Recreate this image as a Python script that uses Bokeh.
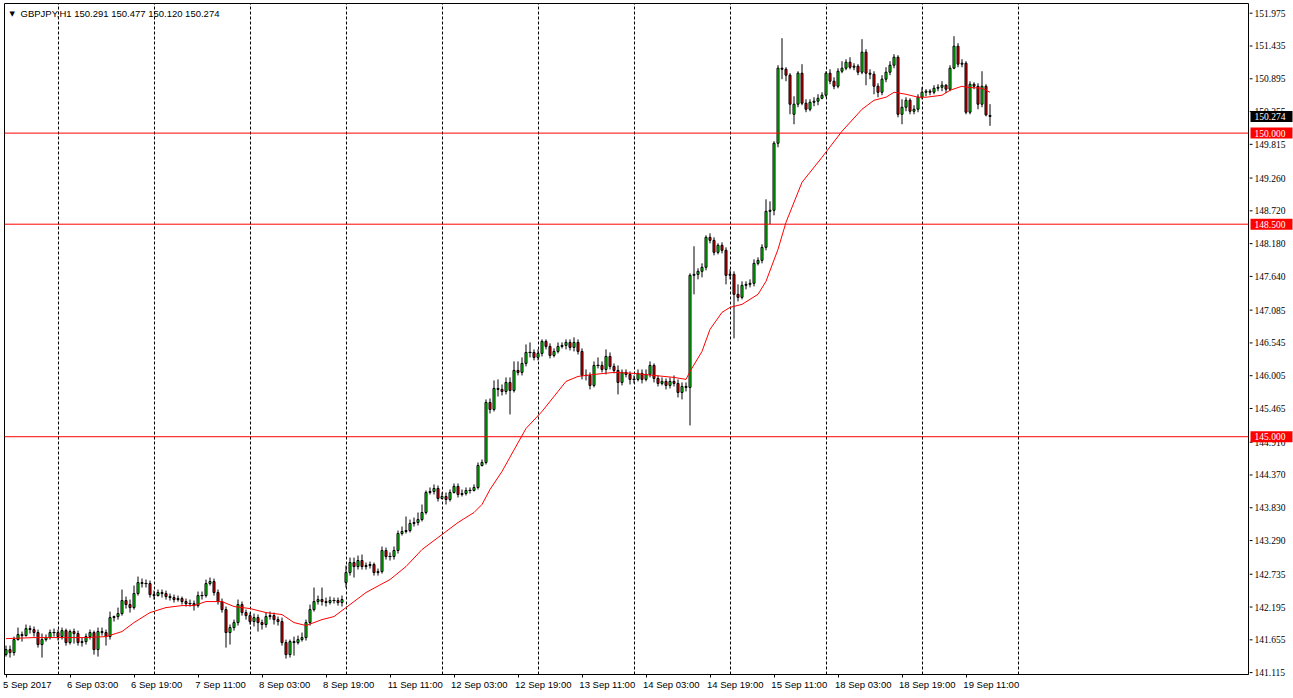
from bokeh.plotting import figure
from bokeh.layouts import row
from bokeh.models import (ColumnDataSource, FixedTicker, Span, Label, Range1d, LinearAxis)
from bokeh.embed import file_html
from bokeh.resources import INLINE

symbol_title = "GBPJPY,H1  150.291 150.477 150.120 150.274"

opens = [
    141.412, 141.494, 141.445, 141.659, 141.742, 141.725, 141.840, 141.824, 141.775, 141.577,
    141.659, 141.692, 141.775, 141.775, 141.708, 141.807, 141.610, 141.791, 141.758, 141.610,
    141.626, 141.708, 141.775, 141.494, 141.791, 141.775, 141.708, 142.021, 142.038, 142.087,
    142.302, 142.236, 142.186, 142.417, 142.598, 142.582, 142.582, 142.400, 142.384, 142.434,
    142.417, 142.368, 142.351, 142.318, 142.335, 142.285, 142.252, 142.252, 142.219, 142.384,
    142.384, 142.582, 142.615, 142.434, 142.285, 142.153, 141.775, 141.857, 141.939, 142.236,
    142.104, 142.054, 141.956, 142.021, 141.939, 141.907, 142.038, 142.054, 141.988, 141.956,
    141.610, 141.412, 141.626, 141.610, 141.659, 141.692, 141.939, 142.153, 142.285, 142.318,
    142.285, 142.269, 142.302, 142.302, 142.269, 142.598, 142.763, 142.928, 142.862, 142.961,
    142.862, 142.878, 142.895, 142.763, 142.779, 143.126, 143.027, 143.027, 143.126, 143.406,
    143.439, 143.455, 143.571, 143.587, 143.636, 143.752, 144.082, 144.098, 144.148, 143.983,
    144.016, 143.966, 144.082, 144.181, 144.049, 144.065, 144.115, 144.115, 144.164, 144.526,
    144.576, 145.565, 145.449, 145.795, 145.779, 145.746, 145.894, 145.762, 146.092, 146.059,
    146.207, 146.388, 146.388, 146.306, 146.372, 146.570, 146.487, 146.339, 146.405, 146.487,
    146.504, 146.553, 146.471, 146.553, 146.405, 146.009, 146.009, 145.845, 146.174, 146.174,
    146.108, 146.322, 146.158, 146.092, 145.894, 146.059, 146.026, 145.944, 145.944, 146.043,
    145.944, 146.026, 146.174, 145.960, 145.878, 145.911, 145.845, 145.911, 145.878, 145.729,
    145.828, 145.812, 147.658, 147.674, 147.724, 147.790, 148.284, 148.234, 148.037, 148.152,
    148.070, 147.658, 147.674, 147.345, 147.295, 147.493, 147.509, 147.526, 147.855, 147.904,
    148.119, 148.712, 148.729, 149.833, 151.069, 151.052, 150.954, 150.310, 150.476, 150.987,
    150.492, 150.393, 150.508, 150.525, 150.574, 150.624, 150.987, 150.855, 150.772, 151.019,
    151.069, 151.168, 151.085, 151.102, 151.003, 151.333, 150.987, 150.970, 150.772, 150.673,
    150.888, 151.003, 151.118, 151.250, 150.310, 150.426, 150.541, 150.360, 150.393, 150.591,
    150.673, 150.690, 150.673, 150.739, 150.755, 150.789, 150.723, 151.069, 151.431, 151.135,
    151.151, 150.344, 150.805, 150.772, 150.476, 150.772, 150.291,
]

highs = [
    141.560, 141.560, 141.708, 141.857, 141.791, 141.907, 141.890, 141.874, 141.824, 141.758,
    141.742, 141.824, 141.840, 141.824, 141.857, 141.840, 141.824, 141.840, 141.807, 141.692,
    141.758, 141.824, 141.807, 141.857, 141.857, 141.824, 142.120, 142.054, 142.186, 142.483,
    142.368, 142.318, 142.549, 142.697, 142.664, 142.648, 142.631, 142.466, 142.483, 142.483,
    142.466, 142.417, 142.400, 142.384, 142.368, 142.335, 142.318, 142.302, 142.450, 142.450,
    142.648, 142.681, 142.664, 142.483, 142.335, 142.203, 141.907, 141.988, 142.318, 142.285,
    142.153, 142.104, 142.087, 142.071, 141.988, 142.104, 142.120, 142.104, 142.038, 142.021,
    141.659, 141.659, 141.708, 141.725, 141.775, 141.988, 142.236, 142.516, 142.384, 142.516,
    142.351, 142.368, 142.351, 142.351, 142.384, 142.878, 143.010, 143.010, 143.043, 143.060,
    142.928, 142.944, 142.928, 142.829, 143.192, 143.175, 143.093, 143.192, 143.455, 143.521,
    143.686, 143.636, 143.669, 143.752, 143.884, 144.115, 144.164, 144.214, 144.197, 144.082,
    144.082, 144.131, 144.230, 144.230, 144.131, 144.164, 144.164, 144.214, 144.576, 144.625,
    145.614, 145.630, 145.927, 145.944, 145.861, 145.977, 145.977, 146.240, 146.240, 146.306,
    146.520, 146.553, 146.438, 146.438, 146.603, 146.603, 146.537, 146.454, 146.553, 146.553,
    146.603, 146.603, 146.636, 146.603, 146.454, 146.108, 146.059, 146.240, 146.306, 146.240,
    146.438, 146.388, 146.207, 146.174, 146.108, 146.108, 146.075, 146.009, 146.108, 146.108,
    146.108, 146.240, 146.207, 146.009, 145.977, 145.960, 145.977, 146.009, 145.944, 145.894,
    145.894, 147.691, 148.136, 147.773, 147.856, 148.317, 148.350, 148.284, 148.185, 148.201,
    148.119, 147.756, 147.724, 147.509, 147.559, 147.559, 147.592, 147.921, 147.954, 148.169,
    148.910, 148.877, 149.866, 151.118, 151.563, 151.085, 150.987, 150.607, 151.019, 151.135,
    150.558, 150.558, 150.591, 150.640, 150.673, 151.019, 151.052, 150.920, 151.069, 151.184,
    151.217, 151.250, 151.151, 151.135, 151.547, 151.382, 151.052, 151.019, 150.822, 150.954,
    151.085, 151.184, 151.300, 151.283, 150.558, 150.591, 150.574, 150.459, 150.640, 150.755,
    150.723, 150.723, 150.789, 150.805, 150.855, 150.805, 151.118, 151.596, 151.481, 151.217,
    151.184, 150.855, 150.838, 150.822, 151.019, 150.805, 150.477,
]

lows = [
    141.379, 141.362, 141.395, 141.643, 141.626, 141.708, 141.758, 141.708, 141.527, 141.362,
    141.626, 141.659, 141.708, 141.643, 141.659, 141.560, 141.577, 141.593, 141.560, 141.544,
    141.577, 141.659, 141.412, 141.379, 141.725, 141.560, 141.659, 141.956, 141.988, 142.054,
    142.170, 142.104, 142.153, 142.384, 142.516, 142.516, 142.351, 142.318, 142.368, 142.351,
    142.318, 142.302, 142.269, 142.285, 142.236, 142.203, 142.203, 142.137, 142.186, 142.318,
    142.351, 142.549, 142.384, 142.236, 142.104, 141.527, 141.577, 141.807, 141.890, 142.054,
    141.988, 141.907, 141.874, 141.791, 141.824, 141.857, 141.988, 141.907, 141.890, 141.560,
    141.346, 141.362, 141.395, 141.577, 141.626, 141.643, 141.890, 142.120, 142.236, 142.219,
    142.203, 142.236, 142.252, 142.219, 142.203, 142.516, 142.713, 142.681, 142.812, 142.812,
    142.812, 142.829, 142.713, 142.713, 142.746, 142.977, 142.961, 142.977, 143.076, 143.373,
    143.406, 143.422, 143.521, 143.538, 143.604, 143.719, 144.049, 144.049, 143.933, 143.966,
    143.884, 143.933, 144.065, 143.999, 144.016, 144.032, 144.065, 144.098, 144.131, 144.510,
    144.543, 145.383, 145.416, 145.663, 145.680, 145.697, 145.367, 145.729, 146.009, 146.009,
    146.158, 146.306, 146.257, 146.257, 146.322, 146.438, 146.289, 146.306, 146.372, 146.454,
    146.438, 146.421, 146.405, 146.355, 145.944, 145.927, 145.779, 145.812, 146.125, 146.059,
    146.026, 146.108, 146.043, 145.697, 145.845, 145.977, 145.861, 145.878, 145.911, 145.878,
    145.911, 145.977, 145.894, 145.828, 145.845, 145.779, 145.795, 145.828, 145.647, 145.614,
    145.746, 145.186, 147.345, 147.592, 147.625, 147.740, 148.185, 147.987, 148.004, 148.020,
    147.509, 147.592, 146.619, 147.229, 147.262, 147.427, 147.460, 147.476, 147.822, 147.855,
    148.070, 148.498, 148.646, 149.767, 150.888, 150.855, 150.310, 150.146, 150.426, 150.459,
    150.344, 150.360, 150.442, 150.459, 150.558, 150.591, 150.805, 150.723, 150.739, 150.987,
    151.036, 151.052, 151.036, 150.954, 150.970, 150.789, 150.888, 150.640, 150.591, 150.624,
    150.838, 150.954, 151.069, 150.261, 150.146, 150.360, 150.310, 150.310, 150.344, 150.558,
    150.607, 150.624, 150.640, 150.690, 150.690, 150.657, 150.690, 151.052, 151.085, 151.085,
    150.310, 150.310, 150.723, 150.393, 150.426, 150.277, 150.120,
]

closes = [
    141.494, 141.445, 141.659, 141.742, 141.725, 141.840, 141.824, 141.775, 141.577, 141.659,
    141.692, 141.775, 141.775, 141.708, 141.807, 141.610, 141.791, 141.758, 141.610, 141.626,
    141.708, 141.775, 141.494, 141.791, 141.775, 141.708, 142.021, 142.038, 142.087, 142.302,
    142.236, 142.186, 142.417, 142.598, 142.582, 142.582, 142.400, 142.384, 142.434, 142.417,
    142.368, 142.351, 142.318, 142.335, 142.285, 142.252, 142.252, 142.219, 142.384, 142.384,
    142.582, 142.615, 142.434, 142.285, 142.153, 141.775, 141.857, 141.939, 142.236, 142.104,
    142.054, 141.956, 142.021, 141.939, 141.907, 142.038, 142.054, 141.988, 141.956, 141.610,
    141.412, 141.626, 141.610, 141.659, 141.692, 141.939, 142.153, 142.285, 142.318, 142.285,
    142.269, 142.302, 142.302, 142.269, 142.318, 142.763, 142.928, 142.862, 142.961, 142.862,
    142.878, 142.895, 142.763, 142.779, 143.126, 143.027, 143.027, 143.126, 143.406, 143.439,
    143.455, 143.571, 143.587, 143.636, 143.752, 144.082, 144.098, 144.148, 143.983, 144.016,
    143.966, 144.082, 144.181, 144.049, 144.065, 144.115, 144.115, 144.164, 144.526, 144.576,
    145.565, 145.449, 145.795, 145.779, 145.746, 145.894, 145.762, 146.092, 146.059, 146.207,
    146.388, 146.388, 146.306, 146.372, 146.570, 146.487, 146.339, 146.405, 146.487, 146.504,
    146.553, 146.471, 146.553, 146.405, 146.009, 146.009, 145.845, 146.174, 146.174, 146.108,
    146.322, 146.158, 146.092, 145.894, 146.059, 146.026, 145.944, 145.944, 146.043, 145.944,
    146.026, 146.174, 145.960, 145.878, 145.911, 145.845, 145.911, 145.878, 145.729, 145.828,
    145.812, 147.658, 147.674, 147.724, 147.790, 148.284, 148.234, 148.037, 148.152, 148.070,
    147.658, 147.674, 147.345, 147.295, 147.493, 147.509, 147.526, 147.855, 147.904, 148.119,
    148.712, 148.729, 149.833, 151.069, 151.052, 150.954, 150.476, 150.476, 150.987, 150.492,
    150.393, 150.508, 150.525, 150.574, 150.624, 150.987, 150.855, 150.772, 151.019, 151.069,
    151.168, 151.085, 151.102, 151.003, 151.333, 150.987, 150.970, 150.772, 150.673, 150.888,
    151.003, 151.118, 151.250, 150.310, 150.426, 150.541, 150.360, 150.393, 150.591, 150.673,
    150.690, 150.673, 150.739, 150.755, 150.789, 150.723, 151.069, 151.431, 151.135, 151.151,
    150.344, 150.805, 150.772, 150.476, 150.772, 150.300, 150.274,
]

ma_bar = [0, 7, 13, 20, 25, 29, 32, 36, 40, 44, 47, 50, 54, 57, 61, 65, 69, 72, 75, 79,
          82, 85, 90, 96, 100, 104, 109, 113, 117, 119, 121, 124, 130, 134, 138, 140, 143, 147, 152, 157,
          162, 167, 170, 171, 174, 176, 179, 181, 184, 188, 190, 193, 195, 199, 204, 209, 214, 217, 220, 222,
          225, 228, 230, 234, 236, 239, 240, 244, 246]
ma_value = [141.675, 141.692, 141.692, 141.692, 141.708, 141.791, 141.939, 142.104, 142.186, 142.219,
            142.219, 142.285, 142.285, 142.203, 142.170, 142.104, 142.071, 141.939, 141.890, 141.988,
            142.038, 142.186, 142.434, 142.648, 142.862, 143.142, 143.389, 143.587, 143.752, 143.884,
            144.131, 144.428, 145.136, 145.416, 145.746, 145.911, 145.993, 146.026, 146.059, 146.043,
            146.009, 145.977, 145.944, 146.075, 146.405, 146.768, 147.048, 147.130, 147.180, 147.345,
            147.559, 148.086, 148.531, 149.190, 149.602, 150.031, 150.393, 150.541, 150.591, 150.673,
            150.640, 150.591, 150.591, 150.624, 150.706, 150.772, 150.755, 150.739, 150.673]

x_tick_bars = [0, 16, 32, 48, 64, 80, 96, 112, 128, 144, 160, 176, 192, 208, 224, 240]
x_tick_labels = ["5 Sep 2017", "6 Sep 03:00", "6 Sep 19:00", "7 Sep 11:00", "8 Sep 03:00",
                 "8 Sep 19:00", "11 Sep 11:00", "12 Sep 03:00", "12 Sep 19:00", "13 Sep 11:00",
                 "14 Sep 03:00", "14 Sep 19:00", "15 Sep 11:00", "18 Sep 03:00", "18 Sep 19:00",
                 "19 Sep 11:00"]
day_grid_bars = [13, 37, 61, 85, 109, 133, 157, 181, 205, 229, 253]
y_ticks = [151.975, 151.435, 150.895, 150.355, 149.815, 149.260, 148.720, 148.180, 147.640,
           147.085, 146.545, 146.005, 145.465, 144.910, 144.370, 143.830, 143.290, 142.735,
           142.195, 141.655, 141.115]
level_lines = [150.000, 148.500, 145.000]
last_price = 150.274

FONT = "Liberation Sans"
FSIZE = "9.5px"
BULL = "#00FF00"
BEAR = "#FF0000"

# ---------------- layout geometry (pixels) ----------------
W_MAIN, W_SCALE, H = 1249, 44, 698
PX_PER_BAR = 4.0
PX_PER_PRICE = 60.72
FRAME_TOP, FRAME_BOTTOM_PAD = 3, 24
frame_w = W_MAIN - 4 - 1
frame_h = H - FRAME_TOP - FRAME_BOTTOM_PAD
x0 = -0.375
price_top = 152.1347
main_x_range = Range1d(x0, x0 + frame_w / PX_PER_BAR)
main_y_range = Range1d(price_top - frame_h / PX_PER_PRICE, price_top)

n = len(closes)
bars = list(range(n))
tops = [max(o, c) for o, c in zip(opens, closes)]
bottoms = [min(o, c) for o, c in zip(opens, closes)]
colors = [BULL if c > o else (BEAR if c < o else "black") for o, c in zip(opens, closes)]

src = ColumnDataSource(dict(x=bars, o=opens, h=highs, l=lows, c=closes,
                            top=tops, bottom=bottoms, color=colors))
doji_x = [i for i in bars if opens[i] == closes[i]]
doji_src = ColumnDataSource(dict(x0=[i - 0.375 for i in doji_x], x1=[i + 0.375 for i in doji_x],
                                 y=[closes[i] for i in doji_x]))

p = figure(width=W_MAIN, height=H, x_range=main_x_range, y_range=main_y_range,
           y_axis_location=None, output_backend="svg", toolbar_location=None,
           min_border_left=4, min_border_top=FRAME_TOP, min_border_right=1,
           min_border_bottom=FRAME_BOTTOM_PAD)
p.background_fill_color = "white"
p.border_fill_color = "white"
p.outline_line_color = "black"
p.outline_line_width = 1

p.xgrid.ticker = FixedTicker(ticks=day_grid_bars)
p.xgrid.grid_line_color = "black"
p.xgrid.grid_line_dash = "3 2"
p.xgrid.grid_line_width = 1
p.ygrid.grid_line_color = None
p.ygrid.visible = False

# axis 1: tick marks at the label times
xa = p.xaxis[0]
xa.ticker = FixedTicker(ticks=x_tick_bars)
xa.major_label_overrides = {b: "" for b in x_tick_bars}
xa.major_label_text_font_size = "0px"
xa.major_label_standoff = 0
xa.major_tick_in = 0
xa.major_tick_out = 3
xa.minor_tick_line_color = None
xa.axis_line_color = "black"
xa.major_tick_line_color = "black"

# axis 2: labels written to the right of each tick (MetaTrader style)
CHAR_W = {"0": 556, "1": 556, "2": 556, "3": 556, "4": 556, "5": 556, "6": 556, "7": 556,
          "8": 556, "9": 556, " ": 278, ":": 278, "S": 667, "e": 556, "p": 556}
def text_px(s):
    return sum(CHAR_W.get(ch, 556) for ch in s) * 9.5 / 1000.0
label_pos = [round(b + (-3.0 + text_px(t) / 2.0) / PX_PER_BAR, 4)
             for b, t in zip(x_tick_bars, x_tick_labels)]
xa2 = LinearAxis(ticker=FixedTicker(ticks=label_pos),
                 major_label_overrides={pos: t for pos, t in zip(label_pos, x_tick_labels)})
xa2.axis_line_color = None
xa2.major_tick_line_color = None
xa2.minor_tick_line_color = None
xa2.major_label_standoff = -5
xa2.major_label_text_font = FONT
xa2.major_label_text_font_size = FSIZE
xa2.major_label_text_color = "black"
p.add_layout(xa2, "below")

# wicks
p.segment(x0="x", y0="l", x1="x", y1="h", source=src, line_color="black", line_width=1)
# bodies
p.vbar(x="x", width=0.5, top="top", bottom="bottom", source=src,
       fill_color="color", line_color="black", line_width=1)
p.segment(x0="x0", y0="y", x1="x1", y1="y", source=doji_src, line_color="black", line_width=1)
# moving average
p.line(ma_bar, ma_value, line_color="#FF0000", line_width=1)

for lv in level_lines:
    p.add_layout(Span(location=lv, dimension="width", line_color="#FF0000", line_width=1))

p.add_layout(Label(x=1.55, y=151.97, text="\u25BC", text_align="center", text_baseline="middle",
                   text_font="DejaVu Sans", text_font_size="7px", text_color="black"))
p.add_layout(Label(x=3.625, y=151.97, text=symbol_title, text_align="left", text_baseline="middle",
                   text_font=FONT, text_font_size=FSIZE, text_color="black"))

# ---------------- price scale panel on the right ----------------
scale_top = price_top + FRAME_TOP / PX_PER_PRICE
s = figure(width=W_SCALE, height=H, x_range=Range1d(0, W_SCALE),
           y_range=Range1d(scale_top - H / PX_PER_PRICE, scale_top),
           x_axis_location=None, y_axis_location=None, output_backend="svg",
           toolbar_location=None, min_border=0)
s.frame_align = False
s.background_fill_color = "white"
s.border_fill_color = "white"
s.outline_line_color = None
s.xgrid.visible = False
s.ygrid.visible = False

tick_src = ColumnDataSource(dict(y=y_ticks, label=[f"{v:.3f}" for v in y_ticks]))
s.segment(x0=0, y0="y", x1=3, y1="y", source=tick_src, line_color="black", line_width=1)
s.text(x=5, y="y", text="label", source=tick_src, text_align="left", text_baseline="middle",
       text_font=FONT, text_font_size=FSIZE, text_color="black")

tag_prices = level_lines + [last_price]
tag_src = ColumnDataSource(dict(y=tag_prices, label=[f"{v:.3f}" for v in tag_prices],
                                fill=["#FF0000"] * len(level_lines) + ["#000000"]))
s.rect(x=22, y="y", width=42, height=11, height_units="screen", source=tag_src,
       fill_color="fill", line_color=None)
s.text(x=5, y="y", text="label", source=tag_src, text_align="left", text_baseline="middle",
       text_font=FONT, text_font_size=FSIZE, text_color="white")

layout = row(p, s)
open("out.html", "w").write(file_html(layout, INLINE))
